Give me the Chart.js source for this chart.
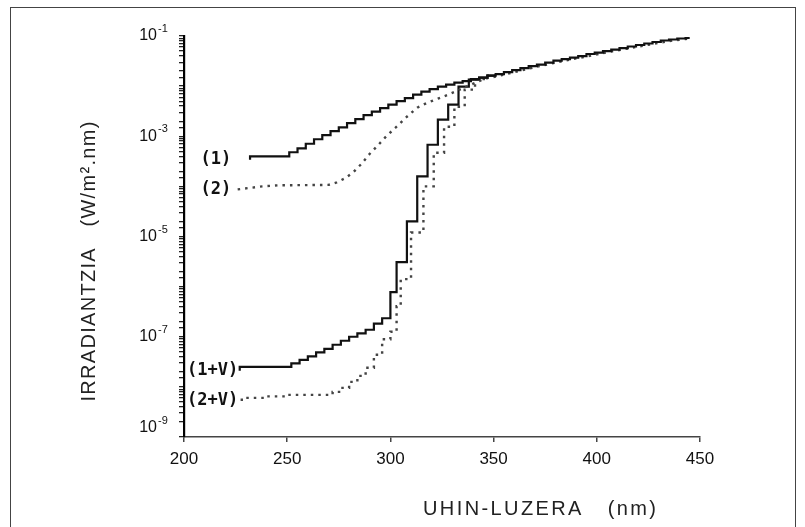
<!DOCTYPE html>
<html>
<head>
<meta charset="utf-8">
<script src="https://cdn.jsdelivr.net/npm/chart.js@4/dist/chart.umd.min.js"></script>
<style>
html,body{margin:0;padding:0;background:#fff;overflow:hidden;}
#wrap{position:relative;width:805px;height:527px;}
#frame{position:absolute;left:10px;top:7px;width:786px;height:540px;border:1.5px solid #444;box-sizing:border-box;pointer-events:none;}
canvas{position:absolute;left:0;top:0;}
</style>
</head>
<body>
<div id="wrap">
<canvas id="c" width="805" height="527"></canvas>
<div id="frame"></div>
</div>
<script>
// ---- data (wavelength in nm, irradiance in W/m2.nm) ----
const wl1  = [232,251,255,259,263,267,271,275,279,283,287,291,295,299,303,307,311,315,319,323,327,331,335,339,343,347,351,355,359,363,367,371,375,379,383,387,391,395,399,403,407,411,415,419,423,427,431,435,439,443,445];
const irr1 = [3.39e-4,3.98e-4,4.79e-4,5.75e-4,7.08e-4,8.71e-4,1.05e-3,1.26e-3,1.51e-3,1.82e-3,2.19e-3,2.63e-3,3.09e-3,3.63e-3,4.27e-3,5.01e-3,5.75e-3,6.76e-3,7.76e-3,8.71e-3,9.77e-3,1.07e-2,1.17e-2,1.26e-2,1.38e-2,1.48e-2,1.62e-2,1.74e-2,1.91e-2,2.09e-2,2.29e-2,2.51e-2,2.69e-2,2.95e-2,3.24e-2,3.47e-2,3.72e-2,3.98e-2,4.37e-2,4.68e-2,5.01e-2,5.37e-2,5.75e-2,6.17e-2,6.61e-2,7.08e-2,7.59e-2,8.13e-2,8.51e-2,8.91e-2,9.12e-2];

const wl2  = [226,238,246,270,274,278,282,286,290,294,298,303,308,313,318,323,328,333,338,343,347,351,355,363,371,379,387,395,403,411,419,427,435,443,445];
const irr2 = [8.71e-5,1.00e-4,1.05e-4,1.07e-4,1.20e-4,1.45e-4,1.91e-4,2.82e-4,4.47e-4,6.61e-4,1.00e-3,1.55e-3,2.45e-3,3.72e-3,4.68e-3,5.62e-3,6.76e-3,8.32e-3,1.02e-2,1.26e-2,1.45e-2,1.55e-2,1.70e-2,2.04e-2,2.45e-2,2.88e-2,3.39e-2,3.89e-2,4.57e-2,5.25e-2,6.03e-2,6.92e-2,7.94e-2,8.71e-2,8.91e-2];

const wl1v  = [227,252,256,260,264,268,272,276,280,284,288,292,296,300,303,308,313,318,323,328,333,338,343,347,351];
const irr1v = [2.09e-8,2.51e-8,2.95e-8,3.47e-8,4.07e-8,4.90e-8,5.75e-8,6.92e-8,8.32e-8,1.00e-7,1.17e-7,1.38e-7,1.82e-7,2.34e-7,7.76e-7,3.09e-6,2.00e-5,1.58e-4,6.76e-4,2.14e-3,4.27e-3,9.77e-3,1.35e-2,1.48e-2,1.62e-2];

const wl2v  = [228,240,250,272,276,280,284,288,292,296,300,303,305,310,316,321,326,331,336,341,346,351];
const irr2v = [5.25e-9,6.03e-9,6.46e-9,6.92e-9,7.94e-9,9.55e-9,1.26e-8,1.66e-8,2.40e-8,4.37e-8,8.91e-8,1.26e-7,4.07e-7,1.41e-6,1.20e-5,1.00e-4,4.68e-4,1.55e-3,3.89e-3,8.51e-3,1.38e-2,1.62e-2];

const xTicks = [200,250,300,350,400,450];
const yTickValues = [1e-1,1e-3,1e-5,1e-7,1e-9];
const yTickExp = ['-1','-3','-5','-7','-9'];

const curveLabels = ['(1)','(2)','(1+V)','(2+V)'];
const labelX = [208,208,201.5,201.5];
const labelY = [3.5e-4,8.7e-5,2.1e-8,5.3e-9];

const xTitle = 'UHIN-LUZERA   (nm)';
const yTitle = 'IRRADIANTZIA   (W/m\u00B2.nm)';

function pts(xs, ys){ return xs.map((x,i)=>({x:x,y:ys[i]})); }

const textPlugin = {
  id:'texts',
  afterDraw(chart){
    const ctx = chart.ctx, xs = chart.scales.x, ys = chart.scales.y, ca = chart.chartArea;
    ctx.save();
    ctx.fillStyle = '#111';
    // y tick labels
    yTickValues.forEach((v,i)=>{
      let py = ys.getPixelForValue(v);
      if (py > ca.bottom - 9) py = ca.bottom - 9;
      const rx = ca.left - 27;
      ctx.font = '16px "Liberation Sans", Arial, sans-serif';
      ctx.textAlign = 'right'; ctx.textBaseline = 'middle';
      ctx.fillText('10', rx, py);
      ctx.font = '11px "Liberation Sans", Arial, sans-serif';
      ctx.textAlign = 'left';
      ctx.fillText(yTickExp[i], rx + 1, py - 7);
    });
    // x tick labels
    ctx.font = '17px "Liberation Sans", Arial, sans-serif';
    ctx.textAlign = 'center'; ctx.textBaseline = 'middle';
    xTicks.forEach(t=>{ ctx.fillText(String(t), xs.getPixelForValue(t), ca.bottom + 22); });
    // curve labels
    ctx.font = 'bold 17px "DejaVu Sans Mono", monospace';
    ctx.textAlign = 'left'; ctx.textBaseline = 'middle';
    curveLabels.forEach((s,i)=>{ ctx.fillText(s, xs.getPixelForValue(labelX[i]), ys.getPixelForValue(labelY[i])); });
    // axis titles
    ctx.fillStyle = '#222';
    ctx.font = '20px "Liberation Sans", Arial, sans-serif';
    try { ctx.letterSpacing = '2.4px'; } catch(e){}
    ctx.textAlign = 'left'; ctx.textBaseline = 'middle';
    ctx.fillText(xTitle, ca.left + 239, 509);
    try { ctx.letterSpacing = '1.3px'; } catch(e){}
    ctx.translate(89, 261);
    ctx.rotate(-Math.PI/2);
    ctx.textAlign = 'center';
    ctx.fillText(yTitle, 0, 0);
    ctx.restore();
  }
};

new Chart(document.getElementById('c'), {
  type:'line',
  data:{
    datasets:[
      {label:'(1)', data:pts(wl1,irr1), stepped:'after', borderColor:'#111', borderWidth:2.2, pointRadius:0, fill:false},
      {label:'(2)', data:pts(wl2,irr2), borderColor:'#444', borderWidth:2.4, borderDash:[2.5,5], pointRadius:0, fill:false, tension:0},
      {label:'(1+V)', data:pts(wl1v,irr1v), stepped:'after', borderColor:'#111', borderWidth:2.2, pointRadius:0, fill:false},
      {label:'(2+V)', data:pts(wl2v,irr2v), stepped:'after', borderColor:'#444', borderWidth:2.4, borderDash:[2.5,5], pointRadius:0, fill:false}
    ]
  },
  options:{
    responsive:false,
    animation:false,
    devicePixelRatio:1,
    layout:{padding:{top:36,right:105,left:0,bottom:0}},
    plugins:{legend:{display:false},tooltip:{enabled:false}},
    scales:{
      x:{
        type:'linear', min:200, max:450,
        afterBuildTicks(s){ s.ticks = xTicks.map(v=>({value:v})); },
        afterFit(s){ s.height = 90; },
        ticks:{display:false},
        grid:{display:true, drawOnChartArea:false, drawTicks:true, tickLength:5, color:'#444', lineWidth:1.5},
        border:{display:true, color:'#444', width:1.6}
      },
      y:{
        type:'logarithmic', min:1e-9, max:1e-1,
        afterFit(s){ s.width = 184; },
        ticks:{display:false},
        grid:{display:true, drawOnChartArea:false, drawTicks:true, tickLength:5, color:'#222', lineWidth:1.3},
        border:{display:true, color:'#000', width:2.2}
      }
    }
  },
  plugins:[textPlugin]
});
</script>
</body>
</html>
